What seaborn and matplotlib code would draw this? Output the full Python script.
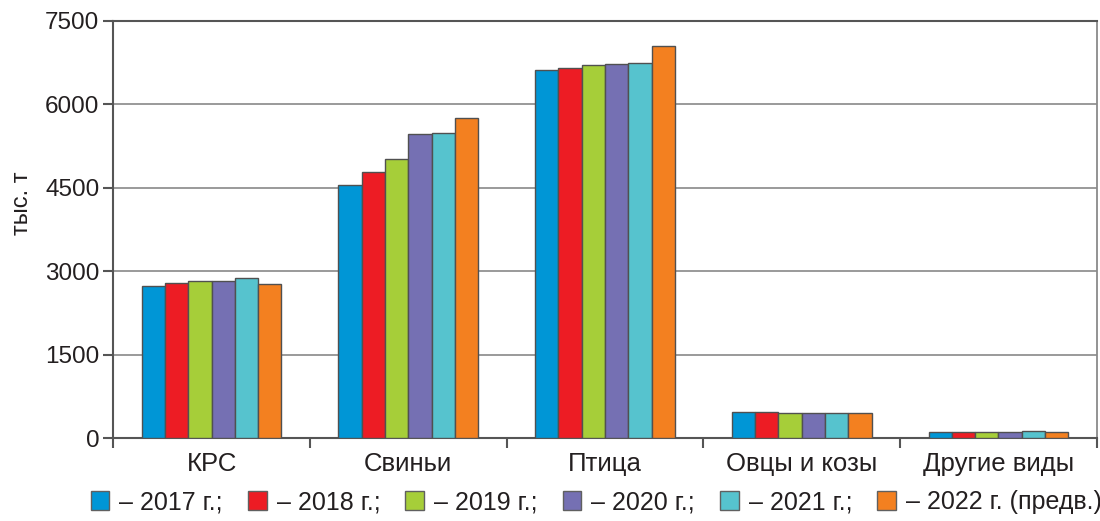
import matplotlib.pyplot as plt
import matplotlib.patches as mpatches
import seaborn as sns
import pandas as pd

categories = ["КРС", "Свиньи", "Птица", "Овцы и козы", "Другие виды"]
years = ["2017 г.;", "2018 г.;", "2019 г.;", "2020 г.;", "2021 г.;", "2022 г. (предв.)"]
v2017 = [2730, 4545, 6620, 462, 102]
v2018 = [2790, 4785, 6660, 473, 102]
v2019 = [2820, 5020, 6705, 445, 102]
v2020 = [2825, 5460, 6725, 445, 102]
v2021 = [2875, 5490, 6745, 445, 126]
v2022 = [2770, 5760, 7050, 445, 102]
colors = ["#0096d6", "#ed1c24", "#a6ce39", "#7570b3", "#56c3ce", "#f38020"]

rows = []
for year, vals in zip(years, [v2017, v2018, v2019, v2020, v2021, v2022]):
    for c, v in zip(categories, vals):
        rows.append({"cat": c, "year": year, "val": v})
df = pd.DataFrame(rows)

sns.set_style("white")
plt.rcParams["font.family"] = ["Liberation Sans", "DejaVu Sans"]

fig = plt.figure(figsize=(11, 5.21), dpi=100)
ax = fig.add_axes([0.103, 0.159, 0.894, 0.801])

sns.barplot(data=df, x="cat", y="val", hue="year", palette=colors, width=0.71,
            saturation=1, edgecolor="#505050", linewidth=1.0, ax=ax, legend=False, zorder=3)

ax.set_ylim(0, 7500)
ax.set_xlim(-0.5, 4.5)
ax.set_yticks([0, 1500, 3000, 4500, 6000, 7500])
ax.yaxis.grid(True, color="#9a9a9a", linewidth=1.4, zorder=0)
ax.set_axisbelow(True)

ax.set_xticks(range(len(categories)))
ax.set_xticklabels(categories)
ax.set_xticks([i - 0.5 for i in range(len(categories) + 1)], minor=True)
ax.tick_params(axis="x", which="major", bottom=False, length=0, labelsize=18.5, pad=10,
               labelcolor="#231f20")
ax.tick_params(axis="x", which="minor", bottom=True, length=7, width=1.5, color="#555555",
               direction="out")
ax.tick_params(axis="y", which="major", left=True, length=7, width=1.5, color="#555555",
               labelsize=17.5, pad=3, labelcolor="#231f20", direction="out")

ax.set_xlabel("")
ax.set_ylabel("тыс. т", fontsize=17, color="#231f20")
ax.yaxis.set_label_coords(-0.0815, 0.5636)

for s in ["left", "bottom", "top"]:
    ax.spines[s].set_color("#555555")
    ax.spines[s].set_linewidth(1.5)
ax.spines["right"].set_color("#8a8a8a")
ax.spines["right"].set_linewidth(1.3)

handles = [mpatches.Patch(facecolor=c, edgecolor="#606060", linewidth=1.0) for c in colors]
labels = ["– " + y for y in years]
fig.legend(handles, labels, loc="center", bbox_to_anchor=(0.542, 0.036), ncol=6,
           frameon=False, fontsize=18, handlelength=0.75, handleheight=0.75,
           handletextpad=0.4, columnspacing=1.0, labelcolor="#231f20")

fig.savefig("out.png", dpi=100)
